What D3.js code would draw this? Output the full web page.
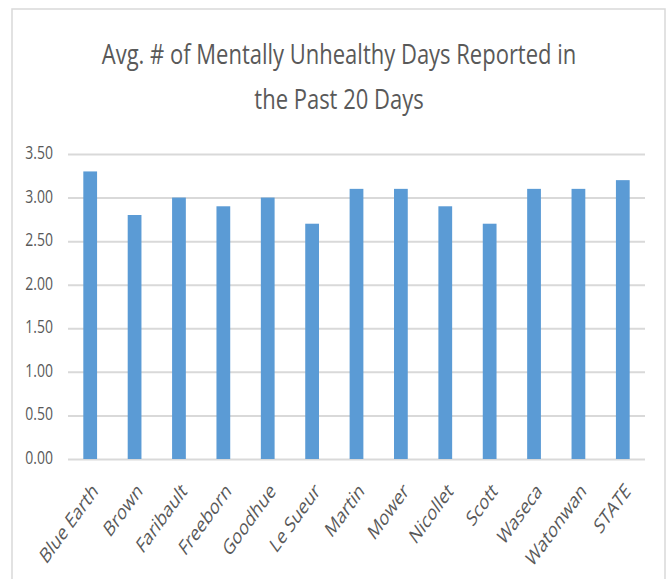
<html>
<head>
<title>Mentally unhealthy days</title>
<style>
  body { margin: 0; background: #fff; }
  text { font-family: "Open Sans", sans-serif; fill: #595959; }
</style>
</head>
<body>
<svg id="container" width="670" height="579"></svg>
<script src="https://d3js.org/d3.v7.min.js"></script>
<script>
    let counties = ["Blue Earth", "Brown", "Faribault", "Freeborn", "Goodhue", "Le Sueur",
        "Martin", "Mower", "Nicollet", "Scott", "Waseca", "Watonwan", "STATE"]
    let days = [3.3, 2.8, 3.0, 2.9, 3.0, 2.7, 3.1, 3.1, 2.9, 2.7, 3.1, 3.1, 3.2]
    let yTicks = [0, 0.5, 1, 1.5, 2, 2.5, 3, 3.5]
    let titleLines = ["Avg. # of Mentally Unhealthy Days Reported in", "the Past 20 Days"]

    // the picture looks stretched vertically, so text gets a y-stretch too
    let stretch = 1.376

    let svg = d3.select("#container")

    // chart frame
    svg.append("rect")
        .attr("x", 12).attr("y", 9)
        .attr("width", 653).attr("height", 600)
        .attr("fill", "none")
        .attr("stroke", "#d9d9d9")
        .attr("stroke-width", 1.5)

    svg.selectAll(".title")
        .data(titleLines)
        .enter()
        .append("text")
        .attr("class", "title")
        .attr("transform", (d, i) => `translate(339,${64 + i * 45}) scale(1,1.2)`)
        .attr("text-anchor", "middle")
        .attr("font-size", 22)
        .text(d => d)

    let x = d3.scaleBand()
        .domain(counties)
        .range([68, 645])
        .paddingInner(0.69)
        .paddingOuter(0.345)

    let y = d3.scaleLinear()
        .domain([0, 3.5])
        .range([459, 154])

    // gridlines
    let grid = svg.append("g")
        .attr("transform", "translate(68,0)")
        .call(d3.axisLeft(y).tickValues(yTicks).tickSize(-577).tickFormat(""))
    grid.select(".domain").remove()
    grid.selectAll("line").attr("stroke", "#d9d9d9").attr("stroke-width", 2)

    let yAxis = svg.append("g")
        .attr("transform", "translate(68,0)")
        .call(d3.axisLeft(y).tickValues(yTicks).tickSize(0).tickPadding(15).tickFormat(d3.format(".2f")))
    yAxis.select(".domain").remove()
    yAxis.selectAll("text")
        .attr("dy", null)
        .attr("x", null)
        .attr("transform", "translate(-15,4.5) scale(1,1.33)")
        .attr("font-size", 14)
        .attr("fill", "#595959")
        .style("font-family", "\"Open Sans\", sans-serif")

    svg.selectAll(".bar")
        .data(counties)
        .enter()
        .append("rect")
        .attr("class", "bar")
        .attr("x", d => x(d))
        .attr("width", x.bandwidth())
        .attr("y", (d, i) => y(days[i]))
        .attr("height", (d, i) => y(0) - y(days[i]))
        .attr("fill", "#5b9bd5")

    svg.selectAll(".xlabel")
        .data(counties)
        .enter()
        .append("text")
        .attr("class", "xlabel")
        .attr("transform", d => `translate(${x(d) + x.bandwidth() / 2 + 5},487) scale(1,${stretch}) rotate(-45)`)
        .attr("text-anchor", "end")
        .attr("dy", "0.35em")
        .attr("font-size", 15.5)
        .text(d => d)
</script>
</body>
</html>
